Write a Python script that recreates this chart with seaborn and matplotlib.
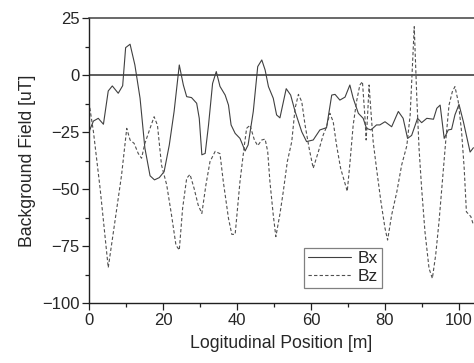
import matplotlib
matplotlib.use("Agg")
import matplotlib.pyplot as plt
import seaborn as sns
import pandas as pd
from matplotlib.ticker import MultipleLocator

bx_pos = [0, 1.2, 2.5, 3.9, 5.2, 6.3, 7.9, 9.1, 9.9, 11.1, 12.4, 13.8, 15.1, 16.5, 17.7,
          19.0, 20.3, 21.7, 23.0, 24.4, 25.5, 26.4, 27.7, 29.1, 29.8, 30.5, 31.4, 32.3,
          33.4, 34.4, 35.4, 36.8, 37.7, 38.4, 39.5, 40.8, 42.2, 43.0, 44.4, 45.6, 46.7,
          47.6, 48.5, 49.8, 50.7, 51.6, 53.3, 54.5, 55.7, 57.5, 58.8, 60.6, 62.4, 64.2,
          65.6, 66.5, 67.8, 69.2, 70.5, 71.4, 72.8, 74.1, 75.0, 76.2, 77.7, 78.6, 80.0,
          81.8, 83.6, 84.9, 86.1, 87.2, 88.8, 89.9, 91.3, 93.1, 94.0, 94.9, 96.0, 97.1,
          98.0, 98.9, 100.0, 101.2, 103.0, 103.9]
bx_val = [-24.9, -20.2, -19, -21.6, -7, -4.8, -8, -4.7, 12, 13.5, 4.4, -10.2, -32, -44.2, -46,
          -45, -42.4, -30.7, -16, 4.4, -4.4, -9.5, -9.9, -12.4, -19, -35, -34.4, -22,
          -3.7, 1.5, -5, -8.8, -13.2, -21.9, -25.6, -27.8, -33.3, -30.7, -16, 3.7, 6.6,
          2.2, -5.1, -10.2, -17.5, -18.8, -6, -8.8, -16, -24.9, -29.2, -28.5, -24.1, -23.1,
          -8.8, -8.5, -11, -9.7, -4.4, -10.2, -16.8, -19, -23.4, -24.1, -21.9, -21.9, -20.5,
          -22.7, -16, -19, -27.8, -26.5, -19, -20.9, -19, -19.4, -14.6, -13.2, -27.8, -24.1,
          -23.8, -17.5, -12.9, -20.6, -33.8, -31.9]

bz_pos = [0, 1.2, 3.0, 5.2, 7.0, 8.8, 10.2, 11.1, 12.2, 13.3, 14.2, 15.1, 16.5, 17.6, 18.5,
          19.6, 21.0, 22.3, 23.5, 24.4, 25.3, 26.4, 27.3, 28.4, 29.5, 30.5, 31.6, 32.7,
          34.1, 35.4, 36.3, 37.7, 38.6, 39.5, 40.8, 42.0, 42.6, 43.5, 44.7, 45.6, 46.7,
          47.6, 48.3, 48.9, 49.8, 50.5, 51.6, 52.5, 53.6, 54.8, 55.7, 56.6, 57.5, 58.4,
          59.5, 60.6, 62.0, 63.3, 64.2, 65.1, 66.0, 66.9, 68.0, 69.8, 70.5, 71.4, 72.3,
          73.2, 73.9, 74.6, 74.9, 75.3, 75.7, 76.2, 76.8, 77.7, 78.9, 80.0, 80.7, 81.8,
          83.2, 84.5, 85.9, 86.8, 87.3, 87.9, 88.6, 89.2, 89.9, 90.8, 91.9, 92.8, 93.7,
          94.6, 95.5, 96.4, 97.3, 98.2, 98.9, 99.8, 100.7, 101.4, 102.0, 103.2, 103.9]
bz_val = [-12, -24.9, -49.7, -84.5, -64.3, -43.9, -23.4, -28.5, -30, -34.4, -36.5, -30, -23.4,
          -18.3, -22, -39.5, -48.2, -61.4, -74.6, -76.8, -58.5, -45.3, -43.6, -49.7, -57,
          -60.7, -48.2, -38, -33.5, -34.5, -46.8, -62.9, -69.9, -69.9, -46.8, -30.7, -23.4,
          -22, -28.5, -31, -28.5, -28.1, -33.6, -46.8, -61.4, -70.9, -61, -51.2, -38, -29.2,
          -14.6, -8.5, -11.7, -22, -32.2, -40.9, -33.6, -26.3, -22.7, -16.8, -20.5, -30.7,
          -40.9, -51, -39, -22, -11.7, -4.4, -2.9, -19, -28.5, -17.5, -4.4, -16, -29.2,
          -40.9, -55.6, -67.2, -72.4, -61.4, -51.2, -39.5, -31, -17.5, 0, 21.2, -10.2,
          -32.2, -49.7, -68.7, -84.8, -89.2, -78.9, -64.3, -46.8, -29.2, -13.2, -7.3, -5.1,
          -11.7, -24.9, -40.9, -60, -62.1, -65.8]

x_ticks = [0, 20, 40, 60, 80, 100]
y_ticks = [-100, -75, -50, -25, 0, 25]

sns.set_style("ticks")
plt.rcParams['font.family'] = ['Liberation Sans', 'DejaVu Sans']

fig = plt.figure(figsize=(4.74, 3.63), dpi=100)
ax = fig.add_axes([89 / 474, 1 - 303 / 363, 1 - 89 / 474, 285 / 363])

dfx = pd.DataFrame({"pos": bx_pos, "val": bx_val})
dfz = pd.DataFrame({"pos": bz_pos, "val": bz_val})
sns.lineplot(data=dfx, x="pos", y="val", ax=ax, color="#404040", lw=0.8, label="Bx",
             estimator=None, sort=False)
sns.lineplot(data=dfz, x="pos", y="val", ax=ax, color="#505050", lw=0.8, label="Bz",
             estimator=None, sort=False, linestyle=(0, (3, 2)))

ax.axhline(0, color="#303030", lw=1.1, zorder=1)

ax.set_xlim(0, (474 - 89) / 3.7)
ax.set_ylim(-100, 25)
ax.set_xticks(x_ticks)
ax.set_yticks(y_ticks)
ax.xaxis.set_minor_locator(MultipleLocator(10))
ax.yaxis.set_minor_locator(MultipleLocator(12.5))
ax.tick_params(which="major", direction="out", length=5, width=0.9, labelsize=12,
               color="#202020", pad=2)
ax.tick_params(which="minor", direction="out", length=3, width=0.9, color="#202020")

for s in ["left", "bottom"]:
    ax.spines[s].set_color("#202020")
    ax.spines[s].set_linewidth(1.0)
ax.spines["top"].set_visible(True)
ax.spines["top"].set_color("#404040")
ax.spines["top"].set_linewidth(1.1)
ax.spines["right"].set_visible(False)

ax.set_xlabel("Logitudinal Position [m]", fontsize=12.7, labelpad=5)
ax.set_ylabel("Background Field [uT]", fontsize=12.7, labelpad=4)

leg = ax.legend(loc="lower left", bbox_to_anchor=(0.559, 0.054), borderaxespad=0,
                fancybox=False, frameon=True, edgecolor="#808080", fontsize=12.5,
                handlelength=2.5, handletextpad=0.4, borderpad=0.2, labelspacing=0.15,
                framealpha=1)
leg.get_frame().set_linewidth(0.9)

fig.savefig("out.png", dpi=100)
